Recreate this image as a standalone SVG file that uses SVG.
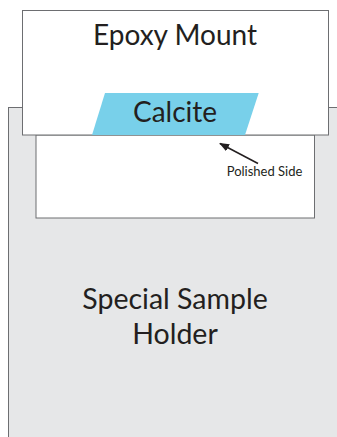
<svg xmlns="http://www.w3.org/2000/svg" width="337" height="437" viewBox="0 0 337 437">
<style>
.t{font-family:Lato,"Liberation Sans",sans-serif;fill:#231f20;text-anchor:middle}
.box{fill:#ffffff;stroke:#6d6e71;stroke-width:1}
</style>
<defs>
<marker id="ah" markerWidth="10" markerHeight="8" refX="9" refY="4" orient="auto" markerUnits="userSpaceOnUse">
<path d="M0,0 L10,4 L0,8 Z" fill="#231f20"/>
</marker>
</defs>
<rect width="337" height="437" fill="#ffffff"/>
<g id="holder">
<rect x="8.5" y="107.5" width="340" height="340" fill="#e6e7e8" stroke="#6d6e71" stroke-width="1"/>
<text class="t" x="175" y="309" font-size="28.5">Special Sample</text>
<text class="t" x="175" y="344" font-size="28.5">Holder</text>
</g>
<g id="sample-base">
<rect class="box" x="36" y="135" width="278.5" height="83"/>
</g>
<g id="epoxy">
<rect class="box" x="22.5" y="10.5" width="306" height="124.5"/>
<text class="t" x="175" y="45" font-size="28">Epoxy Mount</text>
</g>
<g id="calcite">
<polygon points="105,93 258.7,93 245,135 92,135" fill="#78d0ea"/>
<text class="t" x="175" y="121.5" font-size="28">Calcite</text>
</g>
<g id="connectors">
<line x1="258" y1="163.5" x2="220" y2="143.5" stroke="#231f20" stroke-width="1.5" marker-end="url(#ah)"/>
</g>
<g id="label">
<text class="t" x="264.5" y="175.5" font-size="13">Polished Side</text>
</g>
</svg>
